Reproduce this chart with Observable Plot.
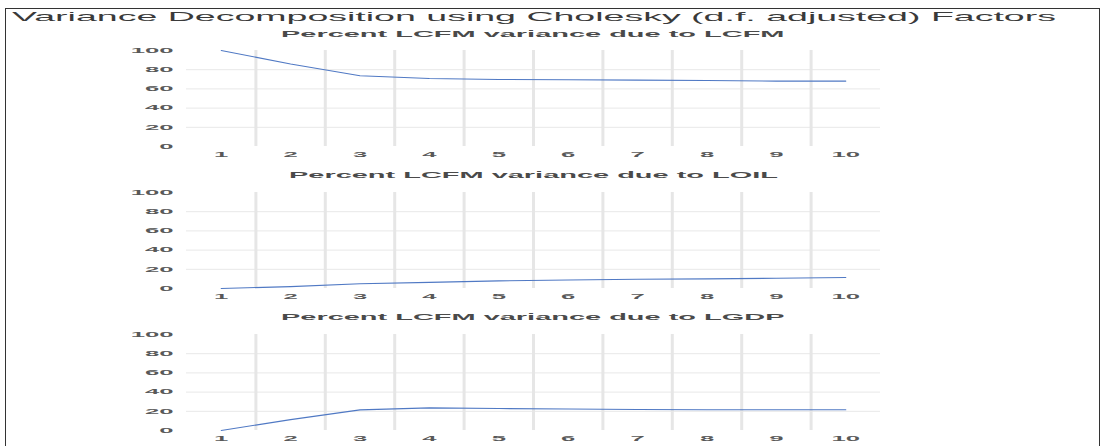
<!DOCTYPE html>
<html><head><meta charset="utf-8">
<script src="https://cdn.jsdelivr.net/npm/d3@7"></script>
<script src="https://cdn.jsdelivr.net/npm/@observablehq/plot@0.6"></script>
<style>
html,body{margin:0;padding:0;background:#fff;overflow:hidden;width:1109px;height:446px}
#root{position:relative;width:1109px;height:446px;overflow:hidden}
.frame{position:absolute;left:5px;top:8px;width:1095px;height:470px;border:1.5px solid #333;box-sizing:border-box}
.txt{position:absolute;white-space:nowrap;font-family:"Liberation Sans",Arial,sans-serif;transform-origin:0 0;line-height:1}
.panel{position:absolute;left:0}
</style></head><body><div id="root"><div class="frame"></div></div>
<script>
const chartTitle = "Variance Decomposition using Cholesky (d.f. adjusted) Factors";
const horizons = [1, 2, 3, 4, 5, 6, 7, 8, 9, 10];
const panelTitles = [
  "Percent LCFM variance due to LCFM",
  "Percent LCFM variance due to LOIL",
  "Percent LCFM variance due to LGDP"
];
const dueToLCFM = [100, 86, 73.7, 70.9, 69.8, 69.5, 69.1, 68.8, 68.1, 68.1];
const dueToLOIL = [0, 2, 5, 6.4, 7.9, 8.9, 9.6, 10, 10.7, 11.4];
const dueToLGDP = [0, 11.3, 21.5, 23.6, 22.9, 22.4, 21.9, 21.6, 21.6, 21.6];
const yTicks = [0, 20, 40, 60, 80, 100];
const gridTicks = [20, 40, 60, 80];

const root = document.getElementById("root");
const FONT = '"Liberation Sans", Arial, sans-serif';

function addText(str, {cx, left, cy, size, weight, color, scale, width}) {
  const el = document.createElement("div");
  el.className = "txt";
  el.textContent = str;
  el.style.fontSize = size + "px";
  el.style.fontWeight = weight;
  el.style.color = color;
  root.appendChild(el);
  const r = el.getBoundingClientRect();
  const s = width ? width / r.width : scale;
  const w = r.width * s;
  el.style.left = (left !== undefined ? left : cx - w / 2) + "px";
  el.style.top = (cy - r.height / 2) + "px";
  el.style.transform = `scaleX(${s})`;
  return s;
}

// main title
addText(chartTitle, {left: 12, cy: 16, size: 13, weight: 400, color: "#3a3a3a", width: 1044});

// panel subtitle scale derived from one title
const probe = document.createElement("span");
probe.className = "txt"; probe.style.fontSize = "8.5px"; probe.style.fontWeight = 700;
probe.textContent = panelTitles[1]; root.appendChild(probe);
const subScale = 489 / probe.getBoundingClientRect().width; probe.remove();

const series = [dueToLCFM, dueToLOIL, dueToLGDP];
const y100 = [49.5, 191.5, 333.5];
const subY = [34, 175, 317];
const separators = horizons.slice(1).map(h => h - 0.5);
const MT = 12, MB = 20, PH = 96;

series.forEach((vals, i) => {
  addText(panelTitles[i], {cx: 533, cy: subY[i], size: 8.5, weight: 700, color: "#4a4a4a", scale: subScale});
  const data = horizons.map((h, j) => ({h, v: vals[j]}));
  const svg = Plot.plot({
    width: 1109,
    height: PH + MT + MB,
    marginTop: MT, marginBottom: MB, marginLeft: 186, marginRight: 229,
    style: {fontFamily: FONT, fontSize: "7px", fontWeight: 700, color: "#595959", background: "transparent", overflow: "visible"},
    x: {domain: [0.5, 10.5], ticks: horizons, tickSize: 0, tickPadding: 6, tickFormat: d => String(d), label: null},
    y: {domain: [0, 100], ticks: yTicks, tickSize: 0, tickPadding: 13, label: null},
    marks: [
      Plot.ruleY(gridTicks, {stroke: "#e8e8e8", strokeWidth: 1}),
      Plot.ruleX(separators, {y1: 0, y2: 100, stroke: "#e6e6e6", strokeWidth: 3}),
      Plot.line(data, {x: "h", y: "v", stroke: "#5079c4", strokeWidth: 1.1})
    ]
  });
  svg.classList.add("panel");
  svg.style.top = (y100[i] - MT) + "px";
  root.appendChild(svg);
  svg.querySelectorAll("text").forEach(t => {
    const s = t.textContent.trim();
    if (/^\d+$/.test(s)) {
      t.setAttribute("textLength", s.length * 14.3);
      t.setAttribute("lengthAdjust", "spacingAndGlyphs");
    }
  });
});
</script></body></html>
